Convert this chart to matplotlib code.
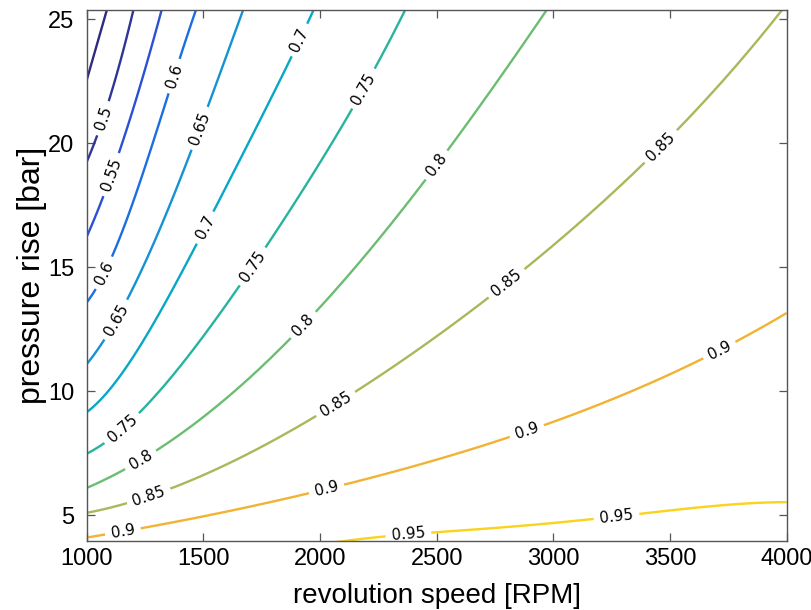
import numpy as np
import matplotlib
matplotlib.use("Agg")
import matplotlib.pyplot as plt
from numpy.polynomial import Polynomial

# contour levels (efficiency) and traced crossing points (rpm, bar) per level
levels = [0.45, 0.50, 0.55, 0.60, 0.65, 0.70, 0.75, 0.80, 0.85, 0.90, 0.95]

eff45_rpm = [1000, 1043, 1086]
eff45_bar = [22.54, 23.95, 25.36]
eff50_rpm = [1000, 1064, 1129, 1200]
eff50_bar = [19.25, 20.79, 22.81, 25.36]
eff55_rpm = [1000, 1086, 1157, 1236, 1321]
eff55_bar = [16.22, 18.24, 20.12, 22.54, 25.36]
eff60_rpm = [1000, 1036, 1129, 1257, 1350, 1400, 1468]
eff60_bar = [13.54, 14.14, 15.82, 19.31, 21.9, 23.5, 25.36]
eff65_rpm = [1000, 1086, 1186, 1271, 1400, 1486, 1579, 1671]
eff65_bar = [11.05, 12.33, 13.8, 15.69, 18.51, 20.59, 23.08, 25.36]
eff70_rpm = [1000, 1086, 1186, 1328, 1471, 1543, 1643, 1771, 1886, 1971]
eff70_bar = [9.10, 10.04, 11.12, 13.40, 15.96, 17.16, 19.2, 21.4, 23.62, 25.36]
eff75_rpm = [1000, 1093, 1228, 1357, 1500, 1643, 1771, 1907, 2043, 2128, 2228, 2364]
eff75_bar = [7.49, 8.02, 9.1, 10.44, 12.33, 14.21, 15.69, 17.7, 19.99, 21.33, 22.81, 25.36]
eff80_rpm = [1000, 1114, 1271, 1471, 1643, 1871, 2214, 2343, 2528, 2771, 2964]
eff80_bar = [6.08, 6.54, 7.55, 8.83, 9.91, 12.06, 15.69, 17.3, 19.58, 22.41, 25.36]
eff85_rpm = [1000, 1186, 1328, 1686, 2000, 2143, 2428, 2728, 2857, 2986, 3114, 3329, 3514,
             3686, 3829, 3964]
eff85_bar = [5.0, 5.54, 6.08, 7.55, 8.96, 9.77, 11.65, 13.8, 14.88, 15.96, 16.9, 18.6, 20.3,
             21.95, 23.5, 25.36]
eff90_rpm = [1000, 1100, 1214, 1514, 1757, 1914, 2100, 2486, 2829, 2986, 3229, 3343, 3543,
             3786, 3900, 4000]
eff90_bar = [4.13, 4.23, 4.40, 5.0, 5.47, 5.78, 6.21, 7.22, 8.16, 8.70, 9.64, 9.97, 10.85,
             12.06, 12.59, 13.13]
eff95_rpm = [2100, 2300, 2500, 2914, 3186, 3486, 3700, 3886, 4000]
eff95_bar = [3.95, 4.15, 4.30, 4.62, 4.87, 5.13, 5.38, 5.54, 5.49]

traces = [
    (eff45_rpm, eff45_bar), (eff50_rpm, eff50_bar), (eff55_rpm, eff55_bar),
    (eff60_rpm, eff60_bar), (eff65_rpm, eff65_bar), (eff70_rpm, eff70_bar),
    (eff75_rpm, eff75_bar), (eff80_rpm, eff80_bar), (eff85_rpm, eff85_bar),
    (eff90_rpm, eff90_bar), (eff95_rpm, eff95_bar),
]

line_colors = ["#2e2a80", "#2f3596", "#2b50d6", "#1b6ee0", "#1592d5", "#08a7c8",
               "#27b49e", "#6bbd72", "#a7b95a", "#f2b233", "#f9d31c"]

# where the inline labels sit (rpm, bar)
label_pos = [
    (1071, 21.0), (1114, 18.7),
    (1386, 22.67), (1078, 14.75),
    (1486, 20.59), (1129, 12.86),
    (1914, 24.15), (1514, 16.56),
    (2186, 22.2), (1714, 15.01), (1157, 8.43),
    (2500, 19.11), (1929, 12.66), (1236, 7.15),
    (3457, 19.9), (2800, 14.34), (2079, 9.3), (1264, 5.81),
    (1157, 4.26), (2029, 6.01), (2886, 8.40), (3714, 11.6),
    (2379, 4.19), (3271, 4.93),
]


def crossing(rpm_pts, bar_pts, r):
    """Smoothed pressure where a level is crossed at rpm r (straight on past the ends)."""
    n = len(rpm_pts)
    if n > 8:
        deg = 4
    elif n > 5:
        deg = 3
    else:
        deg = max(1, n - 2)
    poly = Polynomial.fit(rpm_pts, bar_pts, deg)
    d = poly.deriv()
    r0, r1 = rpm_pts[0], rpm_pts[-1]
    out = poly(np.clip(r, r0, r1))
    out = np.where(r < r0, poly(r0) + d(r0) * (r - r0), out)
    out = np.where(r > r1, poly(r1) + d(r1) * (r - r1), out)
    return out


def efficiency_grid(rpm, bar):
    """Efficiency table on the (rpm, bar) grid, built from the traced crossings."""
    pc_all = np.array([crossing(tr, tb, rpm) for tr, tb in traces])
    z = np.empty((len(bar), len(rpm)))
    lv_all = np.array(levels)
    for j in range(len(rpm)):
        order = np.argsort(pc_all[:, j])
        pc = pc_all[order, j]
        lv = lv_all[order]
        col = np.interp(bar, pc, lv)
        lo = bar < pc[0]
        hi = bar > pc[-1]
        col[lo] = lv[0] + (bar[lo] - pc[0]) * (lv[1] - lv[0]) / (pc[1] - pc[0])
        col[hi] = lv[-1] + (bar[hi] - pc[-1]) * (lv[-1] - lv[-2]) / (pc[-1] - pc[-2])
        z[:, j] = col
    return z


rpm_grid = np.linspace(1000, 4000, 601)
bar_grid = np.linspace(3.9, 25.5, 433)
Z = efficiency_grid(rpm_grid, bar_grid)

fig = plt.figure(figsize=(8.11, 6.10), dpi=100)
ax = fig.add_axes([0.1069, 0.113, 0.8631, 0.8706])
ax.set_xlim(1000, 4000)
ax.set_ylim(3.95, 25.37)

cs = ax.contour(rpm_grid, bar_grid, Z, levels=levels, colors=line_colors, linewidths=1.7)
ax.clabel(cs, fmt="%g", fontsize=11, colors="black", inline=True, inline_spacing=6,
          manual=label_pos)

ax.set_xticks([1000, 1500, 2000, 2500, 3000, 3500, 4000])
ax.set_yticks([5, 10, 15, 20, 25])
ax.tick_params(direction="in", top=True, right=True, length=6, width=0.9,
               color="#555555", labelsize=17, pad=5)
ax.tick_params(axis="y", pad=9)
for lab in ax.get_xticklabels() + ax.get_yticklabels():
    lab.set_family(["Liberation Sans Narrow", "Liberation Sans", "DejaVu Sans"])
for sp in ax.spines.values():
    sp.set_color("#555555")
    sp.set_linewidth(1.0)

ax.set_xlabel("revolution speed [RPM]", fontsize=20,
              family=["Liberation Sans Narrow", "Liberation Sans", "DejaVu Sans"], labelpad=9)
ax.set_ylabel("pressure rise [bar]", fontsize=23,
              family=["Liberation Sans", "DejaVu Sans"], labelpad=1)

fig.savefig("out.png", dpi=100)
